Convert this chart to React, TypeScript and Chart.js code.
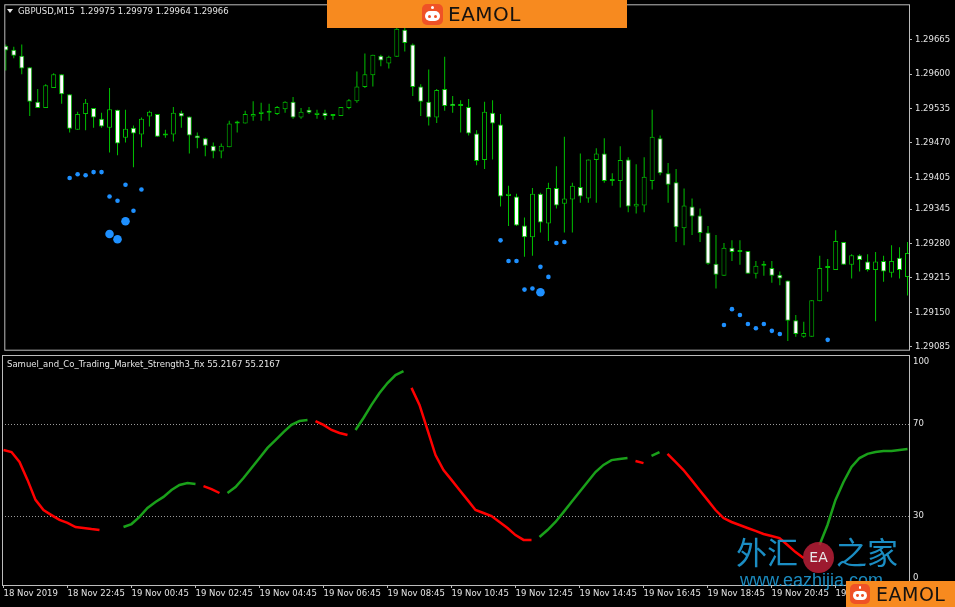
import React, { useEffect, useRef } from 'react';
import { Chart, registerables } from 'chart.js';

Chart.register(...registerables);

// ---------- data ----------
const TICK_BARS = [0, 8, 16, 24, 32, 40, 48, 56, 64, 72, 80, 88, 96, 104];
const TICK_LABELS = [
  '18 Nov 2019', '18 Nov 22:45', '19 Nov 00:45', '19 Nov 02:45', '19 Nov 04:45',
  '19 Nov 06:45', '19 Nov 08:45', '19 Nov 10:45', '19 Nov 12:45', '19 Nov 14:45',
  '19 Nov 16:45', '19 Nov 18:45', '19 Nov 20:45', '19 Nov 22:45',
];

const OPEN = [
  1.29654, 1.29646, 1.29635, 1.29613, 1.29548, 1.29536, 1.29574, 1.29600, 1.29562, 1.29495,
  1.29525, 1.29536, 1.29516, 1.29499, 1.29533, 1.29480, 1.29499, 1.29486, 1.29520, 1.29525,
  1.29484, 1.29486, 1.29527, 1.29520, 1.29484, 1.29479, 1.29465, 1.29454, 1.29462, 1.29510,
  1.29507, 1.29520, 1.29525, 1.29527, 1.29525, 1.29534, 1.29548, 1.29518, 1.29533, 1.29523,
  1.29527, 1.29521, 1.29521, 1.29536, 1.29549, 1.29576, 1.29598, 1.29635, 1.29620, 1.29633,
  1.29684, 1.29656, 1.29577, 1.29548, 1.29518, 1.29572, 1.29544, 1.29540, 1.29538, 1.29488,
  1.29438, 1.29527, 1.29505, 1.29370, 1.29369, 1.29314, 1.29292, 1.29374, 1.29318, 1.29385,
  1.29355, 1.29363, 1.29387, 1.29365, 1.29438, 1.29450, 1.29398, 1.29398, 1.29439, 1.29350,
  1.29352, 1.29398, 1.29479, 1.29413, 1.29396, 1.29309, 1.29350, 1.29333, 1.29301, 1.29242,
  1.29219, 1.29272, 1.29264, 1.29266, 1.29223, 1.29238, 1.29234, 1.29221, 1.29210, 1.29135,
  1.29104, 1.29104, 1.29171, 1.29234, 1.29230, 1.29283, 1.29240, 1.29258, 1.29246, 1.29230,
  1.29247, 1.29225, 1.29253, 1.29217,
];
const HIGH = [
  1.29656, 1.29652, 1.29656, 1.29613, 1.29572, 1.29581, 1.29602, 1.29600, 1.29562, 1.29529,
  1.29553, 1.29536, 1.29527, 1.29574, 1.29533, 1.29533, 1.29503, 1.29518, 1.29531, 1.29525,
  1.29495, 1.29538, 1.29531, 1.29520, 1.29490, 1.29480, 1.29471, 1.29469, 1.29512, 1.29512,
  1.29531, 1.29549, 1.29546, 1.29544, 1.29540, 1.29549, 1.29557, 1.29536, 1.29538, 1.29533,
  1.29533, 1.29525, 1.29538, 1.29553, 1.29605, 1.29639, 1.29637, 1.29637, 1.29635, 1.29695,
  1.29692, 1.29658, 1.29581, 1.29609, 1.29572, 1.29633, 1.29559, 1.29551, 1.29553, 1.29494,
  1.29548, 1.29551, 1.29525, 1.29389, 1.29374, 1.29329, 1.29385, 1.29376, 1.29395, 1.29426,
  1.29482, 1.29395, 1.29450, 1.29439, 1.29460, 1.29479, 1.29413, 1.29464, 1.29443, 1.29430,
  1.29443, 1.29533, 1.29484, 1.29432, 1.29421, 1.29384, 1.29365, 1.29346, 1.29313, 1.29296,
  1.29281, 1.29286, 1.29286, 1.29266, 1.29247, 1.29247, 1.29247, 1.29227, 1.29210, 1.29145,
  1.29132, 1.29173, 1.29257, 1.29251, 1.29305, 1.29283, 1.29260, 1.29260, 1.29260, 1.29264,
  1.29257, 1.29277, 1.29273, 1.29283,
];
const LOW = [
  1.29607, 1.29630, 1.29600, 1.29521, 1.29536, 1.29536, 1.29574, 1.29544, 1.29490, 1.29495,
  1.29494, 1.29499, 1.29499, 1.29452, 1.29447, 1.29471, 1.29424, 1.29462, 1.29501, 1.29482,
  1.29480, 1.29473, 1.29499, 1.29450, 1.29460, 1.29445, 1.29441, 1.29441, 1.29462, 1.29490,
  1.29507, 1.29512, 1.29512, 1.29512, 1.29523, 1.29527, 1.29516, 1.29516, 1.29525, 1.29516,
  1.29514, 1.29514, 1.29521, 1.29534, 1.29546, 1.29574, 1.29577, 1.29615, 1.29611, 1.29633,
  1.29643, 1.29559, 1.29521, 1.29503, 1.29508, 1.29531, 1.29527, 1.29490, 1.29484, 1.29428,
  1.29421, 1.29439, 1.29350, 1.29313, 1.29313, 1.29255, 1.29257, 1.29301, 1.29285, 1.29346,
  1.29301, 1.29301, 1.29357, 1.29357, 1.29357, 1.29395, 1.29389, 1.29348, 1.29339, 1.29337,
  1.29339, 1.29382, 1.29409, 1.29357, 1.29283, 1.29277, 1.29296, 1.29283, 1.29240, 1.29195,
  1.29219, 1.29247, 1.29240, 1.29223, 1.29214, 1.29219, 1.29206, 1.29201, 1.29096, 1.29104,
  1.29102, 1.29104, 1.29171, 1.29189, 1.29230, 1.29240, 1.29214, 1.29227, 1.29227, 1.29133,
  1.29208, 1.29216, 1.29214, 1.29182,
];
const CLOSE = [
  1.29645, 1.29635, 1.29611, 1.29548, 1.29536, 1.29579, 1.29600, 1.29562, 1.29497, 1.29525,
  1.29546, 1.29518, 1.29501, 1.29534, 1.29469, 1.29497, 1.29488, 1.29516, 1.29529, 1.29482,
  1.29486, 1.29527, 1.29520, 1.29484, 1.29479, 1.29465, 1.29454, 1.29465, 1.29507, 1.29507,
  1.29525, 1.29525, 1.29529, 1.29529, 1.29538, 1.29548, 1.29518, 1.29529, 1.29527, 1.29527,
  1.29521, 1.29525, 1.29538, 1.29551, 1.29577, 1.29600, 1.29637, 1.29626, 1.29633, 1.29686,
  1.29659, 1.29576, 1.29548, 1.29518, 1.29570, 1.29540, 1.29540, 1.29542, 1.29488, 1.29436,
  1.29529, 1.29507, 1.29369, 1.29374, 1.29314, 1.29292, 1.29374, 1.29320, 1.29385, 1.29352,
  1.29365, 1.29389, 1.29369, 1.29439, 1.29450, 1.29398, 1.29402, 1.29438, 1.29350, 1.29355,
  1.29406, 1.29482, 1.29413, 1.29391, 1.29311, 1.29352, 1.29331, 1.29300, 1.29242, 1.29221,
  1.29272, 1.29264, 1.29268, 1.29223, 1.29238, 1.29240, 1.29219, 1.29214, 1.29134, 1.29109,
  1.29111, 1.29173, 1.29234, 1.29236, 1.29285, 1.29240, 1.29258, 1.29249, 1.29230, 1.29246,
  1.29227, 1.29247, 1.29230, 1.29262,
];

const PRICE_TICKS = [1.29665, 1.296, 1.29535, 1.2947, 1.29405, 1.29345, 1.2928, 1.29215, 1.2915, 1.29085];
const PRICE_MIN = 1.290794;
const PRICE_MAX = 1.297321;

const SMALL_DOT_BARS = [8, 9, 10, 11, 12, 13, 14, 15, 16, 17, 62, 63, 64, 65, 66, 67, 68, 69, 70, 90, 91, 92, 93, 94, 95, 96, 97, 103];
const SMALL_DOT_PRICES = [
  1.29404, 1.29411, 1.29409, 1.29415, 1.29415, 1.29369, 1.29361, 1.29391, 1.29342, 1.29382,
  1.29286, 1.29247, 1.29247, 1.29193, 1.29195, 1.29236, 1.29217, 1.29281, 1.29283,
  1.29126, 1.29156, 1.29145, 1.29128, 1.29120, 1.29128, 1.29115, 1.29109, 1.29098,
];
const LARGE_DOT_BARS = [13, 14, 15, 67];
const LARGE_DOT_PRICES = [1.29298, 1.29288, 1.29322, 1.29188];

// indicator buffers: [first bar, values]
const STRENGTH_UP_SEGMENTS: [number, number[]][] = [
  [15, [25.2, 26.5, 29.6, 33.5, 36.1, 38.3, 41.3, 43.5, 44.3, 43.9]],
  [28, [40.0, 42.6, 46.5, 50.9, 55.2, 59.6, 63.0, 66.5, 69.6, 71.3, 71.7]],
  [44, [67.4, 72.6, 78.3, 83.5, 87.8, 91.3, 93.0]],
  [67, [20.9, 23.9, 27.4, 31.7, 36.1, 40.4, 44.8, 49.1, 52.2, 54.3, 54.8, 55.2]],
  [81, [56.1, 57.8]],
  [102, [17.4, 26.1, 37.0, 44.8, 51.3, 55.2, 57.0, 57.8, 58.3, 58.3, 58.7, 59.1]],
];
const STRENGTH_DOWN_SEGMENTS: [number, number[]][] = [
  [0, [58.7, 57.8, 53.5, 45.7, 37.0, 32.6, 30.4, 28.3, 27.0, 25.2, 24.8, 24.3, 23.9]],
  [25, [43.0, 41.7, 40.0]],
  [39, [71.3, 69.6, 67.4, 66.1, 65.2]],
  [51, [85.7, 78.3, 67.4, 56.5, 50.0, 45.7, 41.3, 37.0, 32.6, 31.3, 30.0, 27.4, 24.8, 21.7, 19.6, 19.6]],
  [79, [53.9, 53.0]],
  [83, [57.0, 53.5, 50.0, 45.7, 41.3, 37.0, 32.6, 29.1, 27.4, 26.1, 24.8, 23.5, 22.2, 21.3, 20.4, 17.4, 14.3, 11.7]],
];
const STRENGTH_LEVELS = [30, 70];
const STRENGTH_TICK_VALUES = [3, 30, 70, 97];
const STRENGTH_TICK_LABELS = ['0', '30', '70', '100'];

// ---------- styling ----------
const X_MIN = -0.1875;
const X_MAX = 113.1875;
const CANDLE_GREEN = '#00c000';
const BEAR_FILL = '#ffffff';
const BULL_FILL = '#000000';
const DOT_BLUE = '#1e90ff';
const IND_GREEN = '#1aa01a';
const IND_RED = '#ff0000';
const FRAME = '#bcbcbc';
const TEXT = '#e4e4e4';
const AXIS_FONT = { family: 'DejaVu Sans', size: 8.5 };

function buildBuffer(segments: [number, number[]][]) {
  const out: { x: number; y: number | null }[] = OPEN.map((_, i) => ({ x: i, y: null }));
  segments.forEach(([start, vals]) => vals.forEach((v, k) => { out[start + k].y = v; }));
  return out;
}

const framePlugin = {
  id: 'frame',
  afterDatasetsDraw(chart: any) {
    const { ctx, chartArea: a } = chart;
    ctx.save();
    ctx.strokeStyle = FRAME;
    ctx.lineWidth = 1;
    ctx.strokeRect(a.left + 0.5, a.top + 0.5, a.right - a.left, a.bottom - a.top);
    ctx.restore();
  },
};

const fitY = (s: any) => { s.width = 46; s.paddingTop = 0; s.paddingBottom = 0; };
const fitX = (s: any) => { s.height = 22; s.paddingLeft = 0; s.paddingRight = 0; };

function Robot({ left, top, size }: { left: number; top: number; size: number }) {
  const s = size / 21;
  return (
    <div style={{ position: 'absolute', left, top, width: size, height: size, borderRadius: 5 * s, background: '#ef5226' }}>
      <div style={{ position: 'absolute', left: 9 * s, top: 2 * s, width: 3 * s, height: 3 * s, borderRadius: '50%', background: '#fff' }} />
      <div style={{ position: 'absolute', left: 3 * s, top: 7 * s, width: 15 * s, height: 10 * s, borderRadius: 5 * s, background: '#fff' }}>
        <div style={{ position: 'absolute', left: 3 * s, top: 3.5 * s, width: 3 * s, height: 3 * s, borderRadius: '50%', background: '#ef5226' }} />
        <div style={{ position: 'absolute', left: 9 * s, top: 3.5 * s, width: 3 * s, height: 3 * s, borderRadius: '50%', background: '#ef5226' }} />
      </div>
    </div>
  );
}

export default function App() {
  const topRef = useRef<HTMLCanvasElement>(null);
  const botRef = useRef<HTMLCanvasElement>(null);

  useEffect(() => {
    document.body.style.margin = '0';
    document.body.style.background = '#000';

    const priceChart = new Chart(topRef.current as HTMLCanvasElement, {
      type: 'bar',
      data: {
        datasets: [
          {
            type: 'bar',
            label: 'body',
            data: OPEN.map((o, i) => ({ x: i, y: [Math.min(o, CLOSE[i]), Math.max(o, CLOSE[i])] })) as any,
            backgroundColor: OPEN.map((o, i) => (CLOSE[i] < o ? BEAR_FILL : BULL_FILL)),
            borderColor: CANDLE_GREEN,
            borderWidth: 1,
            borderSkipped: false,
            barThickness: 5,
            minBarLength: 2,
            grouped: false,
            inflateAmount: 0,
            order: 0,
          } as any,
          {
            type: 'bar',
            label: 'wick',
            data: LOW.map((l, i) => ({ x: i, y: [l, HIGH[i]] })) as any,
            backgroundColor: CANDLE_GREEN,
            borderWidth: 0,
            barThickness: 1,
            grouped: false,
            inflateAmount: 0,
            order: 1,
          } as any,
          {
            type: 'scatter',
            label: 'signal',
            data: SMALL_DOT_BARS.map((b, k) => ({ x: b, y: SMALL_DOT_PRICES[k] })),
            backgroundColor: DOT_BLUE,
            borderWidth: 0,
            pointRadius: 2.3,
            order: 2,
          } as any,
          {
            type: 'scatter',
            label: 'signal strong',
            data: LARGE_DOT_BARS.map((b, k) => ({ x: b, y: LARGE_DOT_PRICES[k] })),
            backgroundColor: DOT_BLUE,
            borderWidth: 0,
            pointRadius: 4.3,
            order: 3,
          } as any,
        ],
      },
      options: {
        responsive: false,
        animation: false,
        devicePixelRatio: 1,
        events: [],
        layout: { padding: { left: 2, top: 2, right: 0, bottom: 2 } },
        plugins: { legend: { display: false }, tooltip: { enabled: false } },
        scales: {
          x: { type: 'linear', min: X_MIN, max: X_MAX, display: false, offset: false, grid: { offset: false } },
          y: {
            type: 'linear',
            position: 'right',
            min: PRICE_MIN,
            max: PRICE_MAX,
            beginAtZero: false,
            afterFit: fitY,
            afterBuildTicks: (s: any) => { s.ticks = PRICE_TICKS.map((v) => ({ value: v })); },
            ticks: { callback: (v: any) => Number(v).toFixed(5), color: TEXT, font: AXIS_FONT, padding: 3, autoSkip: false },
            grid: { drawOnChartArea: false, drawTicks: true, tickLength: 3, color: FRAME },
            border: { display: false },
          },
        },
      } as any,
      plugins: [framePlugin],
    });

    const strengthChart = new Chart(botRef.current as HTMLCanvasElement, {
      type: 'line',
      data: {
        datasets: [
          {
            label: 'up',
            data: buildBuffer(STRENGTH_UP_SEGMENTS) as any,
            borderColor: IND_GREEN,
            borderWidth: 2.5,
            pointRadius: 0,
            spanGaps: false,
            tension: 0,
          },
          {
            label: 'down',
            data: buildBuffer(STRENGTH_DOWN_SEGMENTS) as any,
            borderColor: IND_RED,
            borderWidth: 2.5,
            pointRadius: 0,
            spanGaps: false,
            tension: 0,
          },
        ],
      },
      options: {
        responsive: false,
        animation: false,
        devicePixelRatio: 1,
        events: [],
        layout: { padding: { left: 2, top: 1, right: 0, bottom: 0 } },
        plugins: { legend: { display: false }, tooltip: { enabled: false } },
        scales: {
          x: {
            type: 'linear',
            min: X_MIN,
            max: X_MAX,
            offset: false,
            afterFit: fitX,
            afterBuildTicks: (s: any) => { s.ticks = TICK_BARS.map((v) => ({ value: v })); },
            ticks: {
              callback: (v: any) => TICK_LABELS[TICK_BARS.indexOf(Number(v))],
              align: 'start',
              maxRotation: 0,
              minRotation: 0,
              autoSkip: false,
              color: TEXT,
              font: AXIS_FONT,
              padding: 1,
            },
            grid: { drawOnChartArea: false, drawTicks: true, tickLength: 3, color: FRAME },
            border: { display: false },
          },
          y: {
            type: 'linear',
            position: 'right',
            min: 0,
            max: 100,
            afterFit: fitY,
            afterBuildTicks: (s: any) => { s.ticks = STRENGTH_TICK_VALUES.map((v) => ({ value: v })); },
            ticks: {
              callback: (_v: any, idx: number) => STRENGTH_TICK_LABELS[idx],
              color: TEXT,
              font: AXIS_FONT,
              padding: 4,
              autoSkip: false,
            },
            grid: {
              drawTicks: false,
              color: (c: any) => (c.tick && STRENGTH_LEVELS.includes(c.tick.value) ? '#9a9a9a' : 'rgba(0,0,0,0)'),
            },
            border: { display: false, dash: [1, 2] },
          },
        },
      } as any,
      plugins: [framePlugin],
    });

    return () => {
      priceChart.destroy();
      strengthChart.destroy();
    };
  }, []);

  const smallText: React.CSSProperties = {
    position: 'absolute',
    fontFamily: 'DejaVu Sans',
    fontSize: 8.5,
    lineHeight: '12px',
    color: TEXT,
    whiteSpace: 'pre',
  };

  return (
    <div style={{ position: 'absolute', left: 0, top: 0, width: 955, height: 607, background: '#000', overflow: 'hidden' }}>
      <canvas ref={topRef} width={955} height={354} style={{ position: 'absolute', left: 0, top: 0 }} />
      <canvas ref={botRef} width={955} height={253} style={{ position: 'absolute', left: 0, top: 354 }} />

      {/* window captions */}
      <div style={{ position: 'absolute', left: 7, top: 9, width: 0, height: 0, borderLeft: '3px solid transparent', borderRight: '3px solid transparent', borderTop: '4px solid #e8e8e8' }} />
      <div style={{ ...smallText, left: 18, top: 5 }}>GBPUSD,M15  1.29975 1.29979 1.29964 1.29966</div>
      <div style={{ ...smallText, left: 7, top: 358 }}>Samuel_and_Co_Trading_Market_Strength3_fix 55.2167 55.2167</div>

      {/* watermark */}
      <div style={{ position: 'absolute', left: 736, top: 531, fontFamily: 'Noto Sans CJK SC', fontSize: 31, lineHeight: '40px', color: '#1e9ad4', opacity: 0.92 }}>外汇</div>
      <div style={{ position: 'absolute', left: 803, top: 542, width: 31, height: 31, borderRadius: '50%', background: 'rgba(185,30,55,0.85)', color: '#e8e8e8', fontFamily: 'DejaVu Sans', fontSize: 14, lineHeight: '31px', textAlign: 'center' }}>EA</div>
      <div style={{ position: 'absolute', left: 836, top: 531, fontFamily: 'Noto Sans CJK SC', fontSize: 31, lineHeight: '40px', color: '#1e9ad4', opacity: 0.92 }}>之家</div>
      <div style={{ position: 'absolute', left: 740, top: 570, fontFamily: 'Liberation Sans', fontSize: 18, lineHeight: '20px', color: '#1e9ad4', opacity: 0.9 }}>www.eazhijia.com</div>

      {/* banners */}
      <div style={{ position: 'absolute', left: 327, top: 0, width: 300, height: 28, background: '#f78a1f' }}>
        <Robot left={95} top={4} size={21} />
        <div style={{ position: 'absolute', left: 121, top: 2, fontFamily: 'DejaVu Sans', fontWeight: 400, fontSize: 20, lineHeight: '24px', color: '#151210', letterSpacing: 0.5 }}>EAMOL</div>
      </div>
      <div style={{ position: 'absolute', left: 846, top: 581, width: 109, height: 26, background: '#f78a1f' }}>
        <Robot left={4} top={3} size={20} />
        <div style={{ position: 'absolute', left: 30, top: 1, fontFamily: 'DejaVu Sans', fontWeight: 400, fontSize: 19, lineHeight: '24px', color: '#151210', letterSpacing: 0.5 }}>EAMOL</div>
      </div>
    </div>
  );
}
